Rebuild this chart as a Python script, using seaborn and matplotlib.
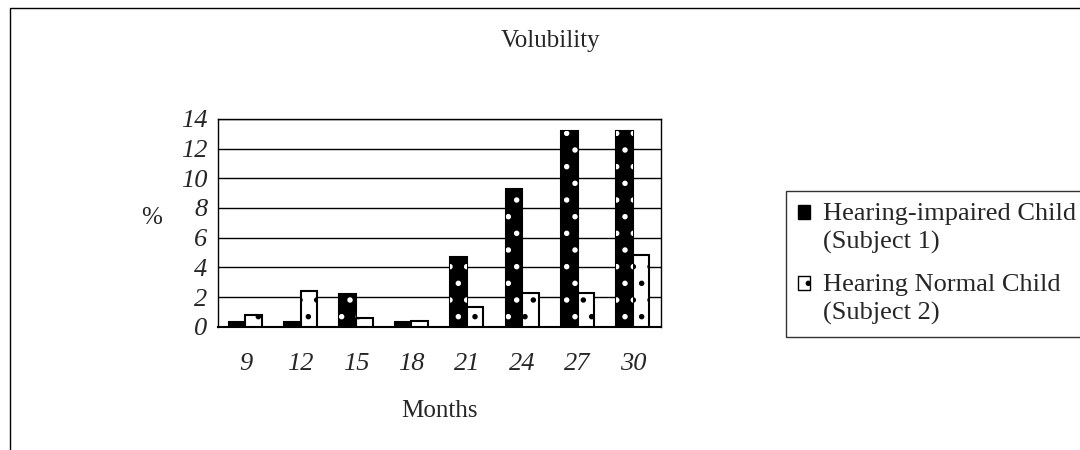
import pandas as pd
import matplotlib.pyplot as plt
import seaborn as sns
from matplotlib.patches import Rectangle
from matplotlib.legend_handler import HandlerPatch

# values
months = ["9", "12", "15", "18", "21", "24", "27", "30"]
impaired = [0.3, 0.3, 2.2, 0.3, 4.7, 9.3, 13.2, 13.2]
normal = [0.8, 2.4, 0.6, 0.4, 1.3, 2.3, 2.3, 4.8]
series = ["Hearing-impaired Child\n(Subject 1)", "Hearing Normal Child\n(Subject 2)"]

df = pd.DataFrame({
    "month": months * 2,
    "pct": impaired + normal,
    "subject": [series[0]] * len(months) + [series[1]] * len(months),
})


class TopSquare(HandlerPatch):
    # puts the legend square next to the first text line
    def create_artists(self, legend, orig_handle, xdescent, ydescent,
                       width, height, fontsize, trans):
        p = Rectangle((-xdescent, -ydescent + 0.6 * fontsize), width, height,
                      facecolor=orig_handle.get_facecolor(), edgecolor="black",
                      hatch=".", linewidth=1, transform=trans)
        return [p]


sns.set_style("white")
plt.rcParams["font.family"] = ["Liberation Serif", "DejaVu Serif"]
plt.rcParams["hatch.linewidth"] = 1.5

fig = plt.figure(figsize=(10.8, 4.5), dpi=100)
ax = fig.add_axes([0.2016, 0.274, 0.410, 0.462])

sns.barplot(data=df, x="month", y="pct", hue="subject", order=months,
            palette=["black", "white"], edgecolor="black", linewidth=1.5,
            width=0.6, ax=ax, legend=False, zorder=3)

# sparse dots on the bars
for i, bar in enumerate(ax.patches):
    dot = "white" if i < len(months) else "black"
    ax.add_patch(Rectangle(bar.get_xy(), bar.get_width(), bar.get_height(),
                           facecolor="none", edgecolor=dot, hatch=".",
                           linewidth=0, zorder=4))

ax.set_ylim(0, 14)
ax.set_yticks(range(0, 15, 2))
ax.set_xlim(-0.5, len(months) - 0.5)
ax.yaxis.grid(True, color="black", linewidth=1)
ax.set_axisbelow(True)
for s in ax.spines.values():
    s.set_color("black")
    s.set_linewidth(1)
ax.spines["bottom"].set_linewidth(1.5)

ax.set_xticks(range(len(months)))
ax.set_xticklabels(months, fontsize=19, style="italic")
ax.set_xticks([x - 0.5 for x in range(len(months) + 1)], minor=True)
ax.tick_params(axis="x", which="major", length=0, pad=19)
ax.tick_params(axis="x", which="minor", length=7, direction="out", color="black")
ax.tick_params(axis="y", length=5, direction="inout", labelsize=19, pad=5, color="black")
for t in ax.get_yticklabels():
    t.set_fontstyle("italic")

ax.set_xlabel("Months", fontsize=18, labelpad=18)
ax.set_ylabel("")
fig.text(152 / 1080, 1 - 218 / 450, "%", fontsize=18, ha="center", va="center")
fig.text(551 / 1080, 1 - 41 / 450, "Volubility", fontsize=18, ha="center", va="center")

# legend box on the right
handles = [Rectangle((0, 0), 1, 1, facecolor=c, edgecolor="black", hatch=".")
           for c in ["black", "white"]]
leg = fig.legend(handles, series, loc="upper left",
                 bbox_to_anchor=(786 / 1080, 1 - 191 / 450),
                 fontsize=19, frameon=True, fancybox=False, edgecolor="black",
                 handlelength=0.45, handleheight=0.45, handletextpad=0.5,
                 labelspacing=0.75, borderpad=0.45, borderaxespad=0,
                 handler_map={Rectangle: TopSquare()})
leg.get_frame().set_linewidth(1)
for t in leg.get_texts():
    t.set_linespacing(1.35)

# outer chart border
fig.add_artist(Rectangle((10 / 1080, -0.05), 1.0, 1 - 8 / 450 + 0.05,
                         transform=fig.transFigure, fill=False,
                         edgecolor="black", linewidth=1))

fig.savefig("out.png", dpi=100)
